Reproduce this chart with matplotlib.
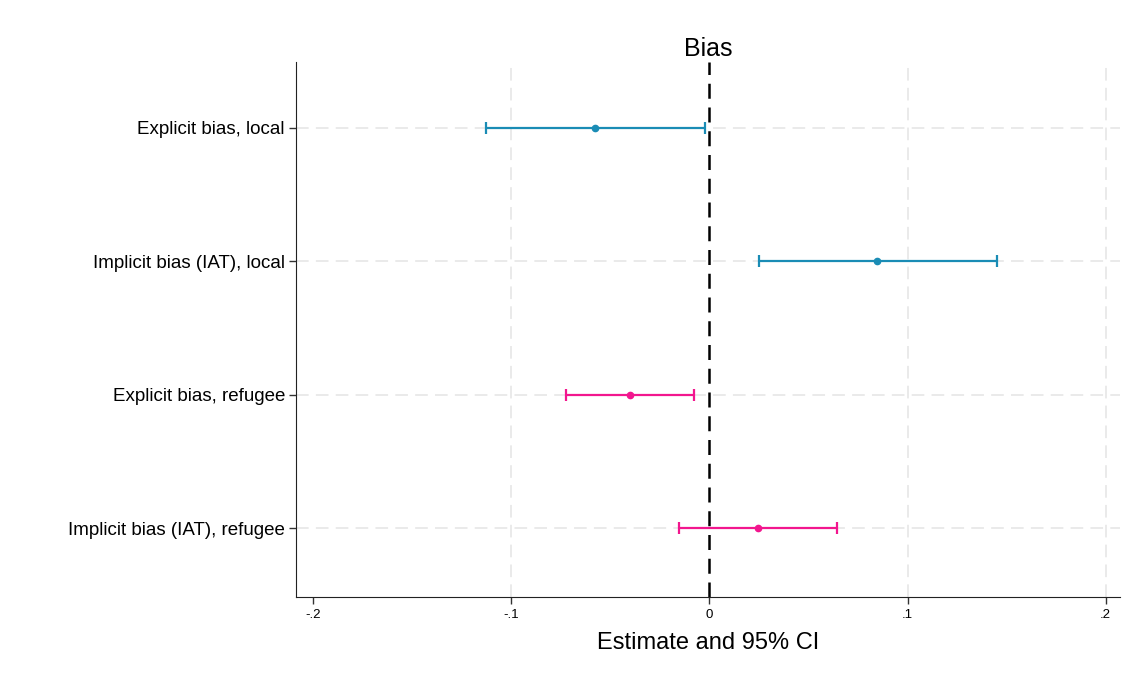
import numpy as np
import matplotlib
matplotlib.use("Agg")
import matplotlib.pyplot as plt

plt.rcParams['font.family'] = ['Liberation Sans', 'DejaVu Sans']

# data
labels = ["Explicit bias, local", "Implicit bias (IAT), local",
          "Explicit bias, refugee", "Implicit bias (IAT), refugee"]
estimates = [-0.0575, 0.0848, -0.0401, 0.0246]
ci_low = [-0.1125, 0.0248, -0.0723, -0.0155]
ci_high = [-0.0020, 0.1452, -0.0079, 0.0644]
colors = ["#1a8cb5", "#1a8cb5", "#f2168e", "#f2168e"]
xticks = [-0.2, -0.1, 0, 0.1, 0.2]
xticklabels = ["-.2", "-.1", "0", ".1", ".2"]

fig = plt.figure(figsize=(11.32, 6.81), dpi=100)
ax = fig.add_axes([0.2615, 0.1233, 0.7275, 0.7857])

ypos = np.arange(1, len(labels) + 1)

# grid lines
for y in ypos:
    ax.axhline(y, color="#e8e8e8", lw=1.3, ls=(0, (7, 4)), zorder=0)
for x in xticks:
    if x not in (-0.2, 0):
        ax.axvline(x, color="#e8e8e8", lw=1.3, ls=(0, (7, 4)), zorder=0)

ax.axvline(0, color="black", lw=1.8, ls=(0, (6, 3.5)), zorder=1)

for i in range(len(labels)):
    est = estimates[i]
    err = [[est - ci_low[i]], [ci_high[i] - est]]
    ax.errorbar(est, ypos[i], xerr=err, fmt="o", color=colors[i],
                ecolor=colors[i], elinewidth=1.6, capsize=4.5, capthick=1.6,
                markersize=4.5, zorder=3)

ax.set_xlim(-0.2086, 0.207)
ax.set_ylim(4.517, 0.506)
ax.set_yticks(ypos)
ax.set_yticklabels(labels, fontsize=13.5)
ax.set_xticks(xticks)
ax.set_xticklabels(xticklabels, fontsize=9.5)
ax.tick_params(axis="both", direction="out", length=5, width=1, color="#333333")
ax.tick_params(axis="y", pad=3)

ax.spines["top"].set_visible(False)
ax.spines["right"].set_visible(False)
ax.spines["left"].set_color("#222222")
ax.spines["bottom"].set_color("#222222")

ax.set_title("Bias", fontsize=18, pad=4)
ax.set_xlabel("Estimate and 95% CI", fontsize=17, labelpad=8)

fig.savefig("out.png", dpi=100)
